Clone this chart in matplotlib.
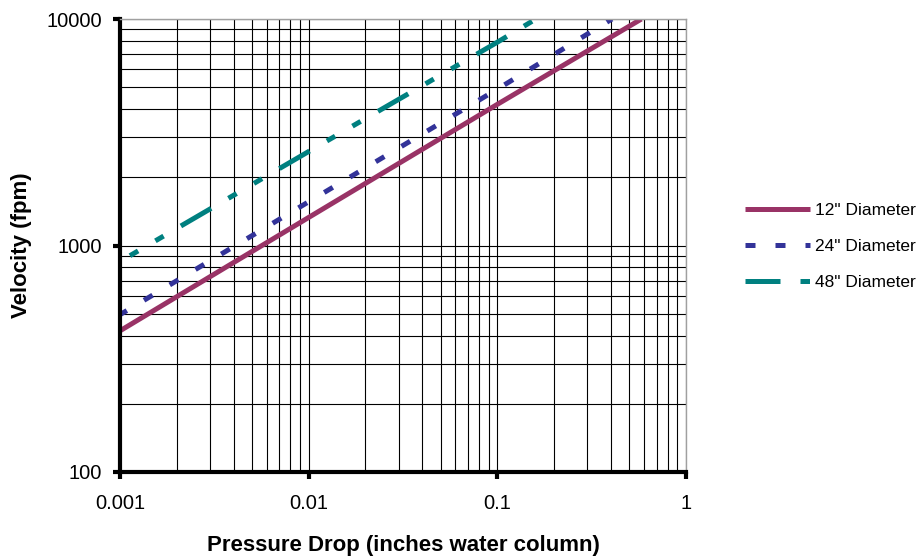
import matplotlib
matplotlib.use("Agg")
import matplotlib.pyplot as plt
from matplotlib.lines import Line2D
from matplotlib.ticker import LogLocator, FixedLocator, NullFormatter

plt.rcParams["font.family"] = ["Liberation Sans", "DejaVu Sans"]

# pressure drop (in. w.c.) vs velocity (fpm)
dp_12 = [0.001, 0.01, 0.1, 0.58]
vel_12 = [420, 1330, 4200, 10000]
dp_24 = [0.001, 0.01, 0.1, 0.405]
vel_24 = [495, 1560, 4900, 10000]
dp_48 = [0.001, 0.01, 0.1, 0.16]
vel_48 = [850, 2600, 7900, 10000]

x_ticks = [0.001, 0.01, 0.1, 1]
x_labels = ["0.001", "0.01", "0.1", "1"]
y_ticks = [100, 1000, 10000]
y_labels = ["100", "1000", "10000"]
labels = ['12" Diameter', '24" Diameter', '48" Diameter']

colors = ["#993366", "#333399", "#008080"]
dash_24 = (2.0, 4.0)
dash_48 = (7.0, 4.0, 1.9, 4.0, 1.9, 4.0)

fig = plt.figure(figsize=(9.18, 5.56), dpi=100)
ax = fig.add_axes([0.1307, 0.1511, 0.6166, 0.8147])

ax.plot(dp_12, vel_12, color=colors[0], lw=3.6, solid_capstyle="butt")
ax.plot(dp_24, vel_24, color=colors[1], lw=3.6, linestyle=(0.4, dash_24))
ax.plot(dp_48, vel_48, color=colors[2], lw=3.6, linestyle=(8.7, dash_48))

ax.set_xscale("log")
ax.set_yscale("log")
ax.set_xlim(0.001, 1)
ax.set_ylim(100, 10000)

ax.xaxis.set_major_locator(FixedLocator(x_ticks))
ax.set_xticklabels(x_labels)
ax.yaxis.set_major_locator(FixedLocator(y_ticks))
ax.set_yticklabels(y_labels)
ax.xaxis.set_minor_locator(LogLocator(base=10, subs=range(2, 10)))
ax.yaxis.set_minor_locator(LogLocator(base=10, subs=range(2, 10)))
ax.xaxis.set_minor_formatter(NullFormatter())
ax.yaxis.set_minor_formatter(NullFormatter())

ax.grid(True, which="both", color="black", lw=0.8)
ax.set_axisbelow(True)
ax.tick_params(which="major", direction="out", length=5, width=3,
               labelsize=14.5)
ax.tick_params(axis="x", which="major", pad=11)
ax.tick_params(axis="y", which="major", pad=8)
ax.tick_params(which="minor", length=0)

for side in ["left", "bottom"]:
    ax.spines[side].set_linewidth(3)
    ax.spines[side].set_color("black")
for side in ["top", "right"]:
    ax.spines[side].set_linewidth(1)
    ax.spines[side].set_color("#a0a0a0")

ax.set_xlabel("Pressure Drop (inches water column)", fontsize=16,
              fontweight="bold", labelpad=16)
ax.set_ylabel("Velocity (fpm)", fontsize=16, fontweight="bold", labelpad=10)

# legend handles start their dash pattern at zero offset, like the original
handles = [
    Line2D([], [], color=colors[0], lw=3.6, solid_capstyle="butt"),
    Line2D([], [], color=colors[1], lw=3.6, linestyle=(0, dash_24)),
    Line2D([], [], color=colors[2], lw=3.6, linestyle=(0, dash_48)),
]
fig.legend(handles, labels, loc="center left", bbox_to_anchor=(0.794, 0.557),
           frameon=False, fontsize=12.5, handlelength=3.75,
           handletextpad=0.3, labelspacing=1.2)

fig.savefig("out.png", dpi=100)
